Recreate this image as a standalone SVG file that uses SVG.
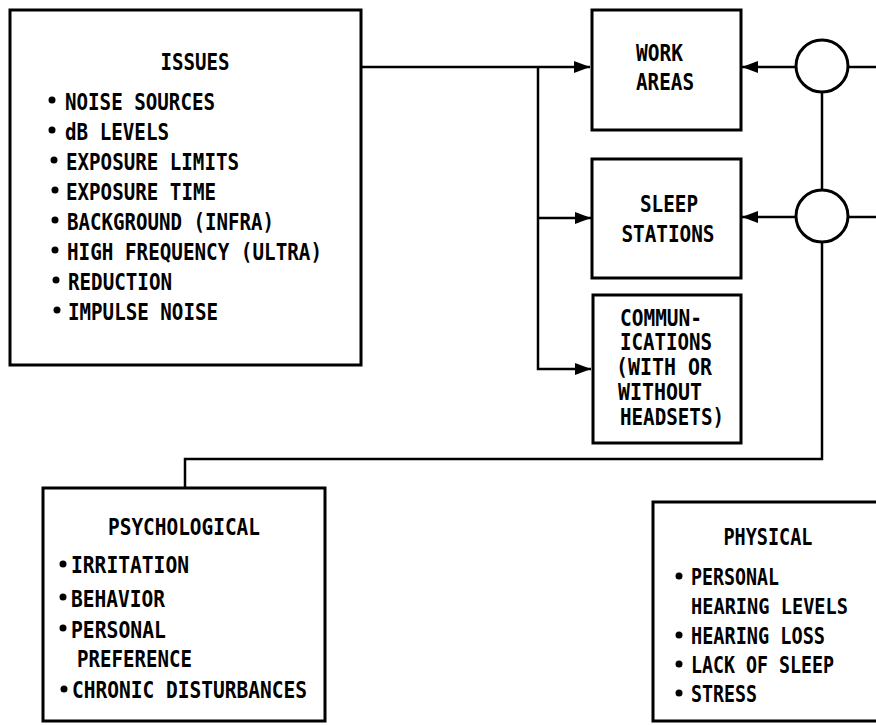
<svg xmlns="http://www.w3.org/2000/svg" width="876" height="725" viewBox="0 0 876 725">
<style>
.box{fill:#fff;stroke:#000;stroke-width:3}
.ln{fill:none;stroke:#000;stroke-width:2.5}
.c{fill:#fff;stroke:#000;stroke-width:3}
text{font-family:"DejaVu Sans Mono","Liberation Mono",monospace;font-size:23px;font-weight:bold;fill:#000}
.m{text-anchor:middle}
.b{fill:#000}
.s{font-size:21px}
</style>
<defs>
<marker id="ah" viewBox="0 0 16 12" refX="16" refY="6" markerWidth="16" markerHeight="12" markerUnits="userSpaceOnUse" orient="auto">
<path d="M0,0 L16,6 L0,12 Z" fill="#000"/>
</marker>
</defs>
<rect width="876" height="725" fill="#fff"/>
<g id="connectors">
<path class="ln" d="M361,67 H590" marker-end="url(#ah)"/>
<path class="ln" d="M538,67 V369 H591" marker-end="url(#ah)"/>
<path class="ln" d="M538,218 H591" marker-end="url(#ah)"/>
<path class="ln" d="M796,67 H742" marker-end="url(#ah)"/>
<path class="ln" d="M796,217 H742" marker-end="url(#ah)"/>
<path class="ln" d="M848,67 H876"/>
<path class="ln" d="M848,217 H876"/>
<path class="ln" d="M822,92 V191"/>
<path class="ln" d="M822,242 V459 H185 V488"/>
</g>
<g id="issues">
<rect class="box" x="10" y="10" width="351" height="355"/>
<text class="m" x="195" y="70" textLength="69" lengthAdjust="spacingAndGlyphs">ISSUES</text>
<circle class="b" cx="52" cy="100" r="3.5"/><text x="65" y="110" textLength="150" lengthAdjust="spacingAndGlyphs">NOISE SOURCES</text>
<circle class="b" cx="52" cy="130" r="3.5"/><text x="65" y="140" textLength="104" lengthAdjust="spacingAndGlyphs">dB LEVELS</text>
<circle class="b" cx="54" cy="160" r="3.5"/><text x="66" y="170" textLength="173" lengthAdjust="spacingAndGlyphs">EXPOSURE LIMITS</text>
<circle class="b" cx="55" cy="190" r="3.5"/><text x="66" y="200" textLength="150" lengthAdjust="spacingAndGlyphs">EXPOSURE TIME</text>
<circle class="b" cx="55" cy="220" r="3.5"/><text x="67" y="230" textLength="207" lengthAdjust="spacingAndGlyphs">BACKGROUND (INFRA)</text>
<circle class="b" cx="55" cy="250" r="3.5"/><text x="67" y="260" textLength="255" lengthAdjust="spacingAndGlyphs">HIGH FREQUENCY (ULTRA)</text>
<circle class="b" cx="56" cy="280" r="3.5"/><text x="68" y="290" textLength="104" lengthAdjust="spacingAndGlyphs">REDUCTION</text>
<circle class="b" cx="57" cy="310" r="3.5"/><text x="68" y="320" textLength="150" lengthAdjust="spacingAndGlyphs">IMPULSE NOISE</text>
</g>
<g id="work-areas">
<rect class="box" x="592" y="10" width="149" height="120"/>
<text x="636" y="61" textLength="47" lengthAdjust="spacingAndGlyphs">WORK</text>
<text x="636" y="90" textLength="58" lengthAdjust="spacingAndGlyphs">AREAS</text>
</g>
<g id="sleep-stations">
<rect class="box" x="592" y="159" width="149" height="119"/>
<text class="m" x="669" y="212" textLength="58" lengthAdjust="spacingAndGlyphs">SLEEP</text>
<text class="m" x="668" y="242" textLength="93" lengthAdjust="spacingAndGlyphs">STATIONS</text>
</g>
<g id="communications">
<rect class="box" x="593" y="295" width="148" height="148"/>
<text x="620" y="326" textLength="82" lengthAdjust="spacingAndGlyphs">COMMUN-</text>
<text x="620" y="350" textLength="92" lengthAdjust="spacingAndGlyphs">ICATIONS</text>
<text x="616" y="375" textLength="96" lengthAdjust="spacingAndGlyphs">(WITH OR</text>
<text x="618" y="400" textLength="84" lengthAdjust="spacingAndGlyphs">WITHOUT</text>
<text x="620" y="425" textLength="104" lengthAdjust="spacingAndGlyphs">HEADSETS)</text>
</g>
<g id="junction-1"><circle class="c" cx="822" cy="66" r="26"/></g>
<g id="junction-2"><circle class="c" cx="822" cy="216" r="26"/></g>
<g id="psychological">
<rect class="box" x="43" y="488" width="282" height="233"/>
<text class="m" x="184" y="535" textLength="152" lengthAdjust="spacingAndGlyphs">PSYCHOLOGICAL</text>
<circle class="b" cx="63" cy="564" r="3.5"/><text x="71" y="573" textLength="118" lengthAdjust="spacingAndGlyphs">IRRITATION</text>
<circle class="b" cx="63" cy="597" r="3.5"/><text x="71" y="607" textLength="94" lengthAdjust="spacingAndGlyphs">BEHAVIOR</text>
<circle class="b" cx="63" cy="628" r="3.5"/><text x="71" y="638" textLength="95" lengthAdjust="spacingAndGlyphs">PERSONAL</text>
<text x="77" y="667" textLength="115" lengthAdjust="spacingAndGlyphs">PREFERENCE</text>
<circle class="b" cx="64" cy="689" r="3.5"/><text x="72" y="698" textLength="235" lengthAdjust="spacingAndGlyphs">CHRONIC DISTURBANCES</text>
</g>
<g id="physical">
<path class="box" d="M876,502 H653 V721 H876"/>
<text class="m" x="768" y="545" textLength="89" lengthAdjust="spacingAndGlyphs">PHYSICAL</text>
<circle class="b" cx="679" cy="576" r="3.5"/><text x="691" y="585" textLength="88" lengthAdjust="spacingAndGlyphs">PERSONAL</text>
<text class="s" x="691" y="614" textLength="157" lengthAdjust="spacingAndGlyphs">HEARING LEVELS</text>
<circle class="b" cx="679" cy="635" r="3.5"/><text x="691" y="644" textLength="134" lengthAdjust="spacingAndGlyphs">HEARING LOSS</text>
<circle class="b" cx="679" cy="664" r="3.5"/><text x="691" y="673" textLength="143" lengthAdjust="spacingAndGlyphs">LACK OF SLEEP</text>
<circle class="b" cx="679" cy="693" r="3.5"/><text x="691" y="702" textLength="66" lengthAdjust="spacingAndGlyphs">STRESS</text>
</g>
</svg>
